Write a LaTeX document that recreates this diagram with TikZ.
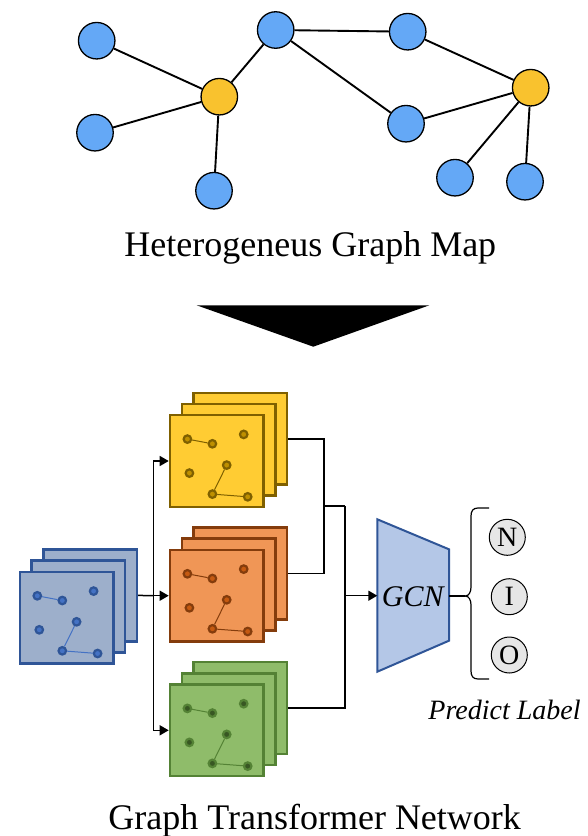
\documentclass[tikz,border=0pt]{standalone}
\usepackage{fontspec}
\setmainfont{Liberation Serif}
\usetikzlibrary{shapes.geometric,arrows.meta}
\definecolor{gblue}{HTML}{64A8F6}
\definecolor{gyel}{HTML}{F9C22E}
\definecolor{bfill}{HTML}{9DAFCB}
\definecolor{bbord}{HTML}{2F5597}
\definecolor{bdot}{HTML}{4472C4}
\definecolor{yfill}{HTML}{FFCC33}
\definecolor{ybord}{HTML}{7F6000}
\definecolor{ydot}{HTML}{BF9000}
\definecolor{ofill}{HTML}{F09656}
\definecolor{obord}{HTML}{843C0C}
\definecolor{odot}{HTML}{C55A11}
\definecolor{gfill}{HTML}{8FBC6A}
\definecolor{gbord}{HTML}{548235}
\definecolor{gdot}{HTML}{385723}
\definecolor{gcnfill}{HTML}{B4C7E7}
\definecolor{lblfill}{HTML}{E6E6E6}
\newcommand\gstack[7]{%
  \node[sq, fill=#4, draw=#5] (#1b) at (#2+23.6,#3-22.3) {};
  \node[sq, fill=#4, draw=#5] (#1m) at (#2+11.8,#3-11.15) {};
  \node[sq, fill=#4, draw=#5] (#1f) at (#2,#3) {};
  \foreach \n/\dx/\dy in {1/-29.3/-21.9, 2/-4.3/-17.2, 3/27/-26.6, 4/-27.3/12.1, 5/10/4.1, 6/-4.3/33.1, 7/31/35.8}
    \node[dotn, fill=#6, draw=#5] (#1d\n) at ([shift={(\dx,\dy)}]#1f.center) {};
  \draw[#7, line width=1pt] (#1d1) -- (#1d2) (#1d5) -- (#1d6) -- (#1d7);
}
\begin{document}
\begin{tikzpicture}[x=1pt, y=-1pt,
  gnode/.style={circle, draw=black, line width=1.3pt, minimum size=36.5pt, inner sep=0pt},
  bnode/.style={gnode, fill=gblue},
  ynode/.style={gnode, fill=gyel},
  gedge/.style={line width=1.9pt, black},
  sq/.style={rectangle, line width=2.6pt, minimum width=93.4pt, minimum height=91.7pt, inner sep=0pt},
  dotn/.style={circle, line width=2.2pt, minimum size=7.5pt, inner sep=0pt},
  conn/.style={line width=1.8pt, black},
  arr/.style={line width=1.5pt, black, -{Triangle[length=9pt,width=10pt]}},
  lbl/.style={circle, draw=black, line width=1pt, fill=lblfill, minimum size=36pt, inner sep=0pt, font=\fontsize{28}{30}\selectfont},
  big/.style={font=\fontsize{36}{40}\selectfont, inner sep=0pt}
]
\useasboundingbox (0,0) rectangle (587,836);
% ---- top graph ----
\node[bnode] (A) at (96.7,40.7) {};
\node[bnode] (B) at (95,132.7) {};
\node[ynode] (C) at (219.3,96.7) {};
\node[bnode] (D) at (214,190.7) {};
\node[bnode] (E) at (275.7,30) {};
\node[bnode] (F) at (407.7,31.7) {};
\node[bnode] (G) at (406,123.7) {};
\node[ynode] (H) at (530.7,87.7) {};
\node[bnode] (I) at (455,177.7) {};
\node[bnode] (J) at (525,181.7) {};
\draw[gedge] (A) -- (C) (B) -- (C) (D) -- (C) (C) -- (E) (E) -- (F) (E) -- (G)
  (F) -- (H) (G) -- (H) (H) -- (I) (H) -- (J);
\node[big, anchor=base] (t1) at (310.3,256) {Heterogeneus Graph Map};
% ---- big arrow ----
\fill[black] (196.7,305.3) -- (429.3,305.3) -- (313.3,346.7) -- cycle;
% ---- stacks ----
\gstack{bl}{66.6}{617.7}{bfill}{bbord}{bdot}{bdot}
\gstack{y}{216.7}{461}{yfill}{ybord}{ydot}{ybord}
\gstack{o}{216.7}{595.7}{ofill}{obord}{odot}{obord}
\gstack{g}{216.7}{730.3}{gfill}{gbord}{gdot}{gbord}
% ---- connectors ----
\coordinate (split) at (153.7,595.7);
\draw[conn, line width=1.5pt] (blb.east) -- (split);
\draw[arr] (split) |- (yf.west);
\draw[arr] (split) |- (gf.west);
\draw[arr] (split) -- (of.west);
\coordinate (j1) at (324.3,506);
\coordinate (j2) at (344.7,506);
\coordinate (j3) at (344.7,595.7);
\draw[conn] (yb.east) -| (j1);
\draw[conn] (ob.east) -| (j1);
\draw[conn] (j1) -- (j2);
\draw[conn] (gb.east) -| (j2);
% ---- GCN ----
\coordinate (gtl) at (377.3,519.3);
\coordinate (gtr) at (449,549.3);
\coordinate (gbr) at (449,640.7);
\coordinate (gbl) at (377.3,671.7);
\draw[fill=gcnfill, draw=bbord, line width=2pt] (gtl) -- (gtr) -- (gbr) -- (gbl) -- cycle;
\coordinate (gcnin) at (377.3,595.7);
\coordinate (gcnout) at (449,596);
\draw[arr] (j3) -- (gcnin);
\node[font=\fontsize{30}{32}\selectfont\itshape, inner sep=0pt] (gcn) at (412.7,596.7) {GCN};
% ---- brace ----
\coordinate (tip) at (465,596);
\draw[line width=1.2pt] (gcnout) -- (tip);
\draw[line width=1.2pt] (489,508) -- (478,508) .. controls (473,508) and (471,511) .. (471,516)
  -- (471,587) .. controls (471,592) and (469,596) .. (tip)
  .. controls (469,596) and (471,600) .. (471,605) -- (471,671)
  .. controls (471,676) and (473,679) .. (478,679) -- (489,679);
% ---- labels ----
\node[lbl] (N) at (507.3,537.3) {N};
\node[lbl] (Ic) at (509.3,596.7) {I};
\node[lbl] (O) at (509.3,655) {O};
\node[font=\fontsize{28}{30}\selectfont\itshape, inner sep=0pt, anchor=base] (pl) at (504.5,719) {Predict Label};
\node[big, anchor=base] (t2) at (314.7,829) {Graph Transformer Network};
\end{tikzpicture}
\end{document}
